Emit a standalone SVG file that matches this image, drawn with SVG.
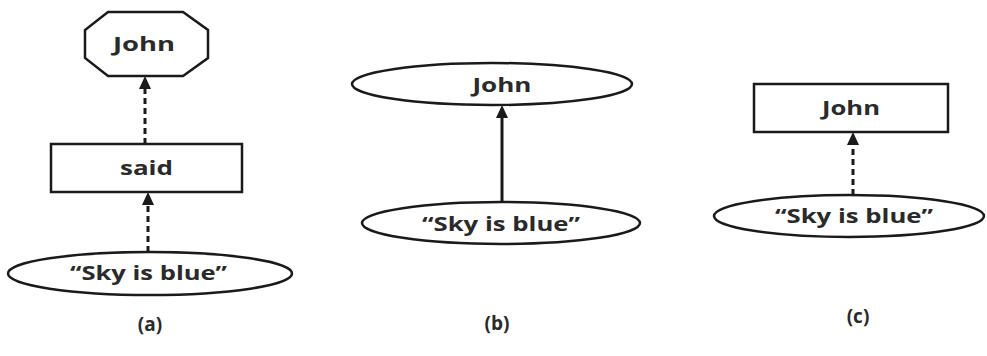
<svg xmlns="http://www.w3.org/2000/svg" width="987" height="356" viewBox="0 0 987 356">
<style>
.shape{fill:#fff;stroke:#1a1a1a;stroke-width:2.5}
.t{font-family:"Open Sans","DejaVu Sans",sans-serif;font-weight:bold;font-size:20px;fill:#2a2a2a;text-anchor:middle}
.lbl{font-family:"Open Sans","DejaVu Sans",sans-serif;font-weight:bold;font-size:19px;fill:#2a2a2a;text-anchor:middle}
.dash{stroke:#1a1a1a;stroke-width:3;stroke-dasharray:6 4;fill:none}
.solid{stroke:#1a1a1a;stroke-width:3;fill:none}
.head{fill:#1a1a1a}
</style>
<rect width="987" height="356" fill="#fff"/>
<g id="connectors">
<line class="dash" x1="145" y1="144" x2="145" y2="88"/>
<polygon class="head" points="145,76 139,89 151,89"/>
<line class="dash" x1="148" y1="252" x2="148" y2="204"/>
<polygon class="head" points="148,192 142,205 154,205"/>
<line class="solid" x1="502" y1="202" x2="502" y2="117"/>
<polygon class="head" points="502,105 496,118 508,118"/>
<line class="dash" x1="853" y1="195" x2="853" y2="144"/>
<polygon class="head" points="853,132 847,145 859,145"/>
</g>
<g id="a-john">
<polygon class="shape" points="108,12 183,12 208,30 208,58 183,76 108,76 85,58 85,30"/>
<text class="t" x="144" y="51" textLength="62" lengthAdjust="spacingAndGlyphs">John</text>
</g>
<g id="a-said">
<rect class="shape" x="51" y="144" width="191" height="48"/>
<text class="t" x="146.5" y="175" textLength="53" lengthAdjust="spacingAndGlyphs">said</text>
</g>
<g id="a-sky">
<ellipse class="shape" cx="150" cy="273.5" rx="142" ry="21.5"/>
<text class="t" x="148.5" y="280" textLength="157" lengthAdjust="spacingAndGlyphs">“Sky is blue”</text>
</g>
<g id="b-john">
<ellipse class="shape" cx="492" cy="84" rx="140" ry="21"/>
<text class="t" x="502" y="92" textLength="59" lengthAdjust="spacingAndGlyphs">John</text>
</g>
<g id="b-sky">
<ellipse class="shape" cx="501" cy="223" rx="139" ry="21"/>
<text class="t" x="501" y="231" textLength="158" lengthAdjust="spacingAndGlyphs">“Sky is blue”</text>
</g>
<g id="c-john">
<rect class="shape" x="754" y="84" width="194" height="48"/>
<text class="t" x="851" y="115" textLength="58" lengthAdjust="spacingAndGlyphs">John</text>
</g>
<g id="c-sky">
<ellipse class="shape" cx="849" cy="216" rx="135" ry="21"/>
<text class="t" x="854" y="223" textLength="158" lengthAdjust="spacingAndGlyphs">“Sky is blue”</text>
</g>
<text class="lbl" x="150" y="331">(a)</text>
<text class="lbl" x="497" y="330">(b)</text>
<text class="lbl" x="858" y="323">(c)</text>
</svg>
